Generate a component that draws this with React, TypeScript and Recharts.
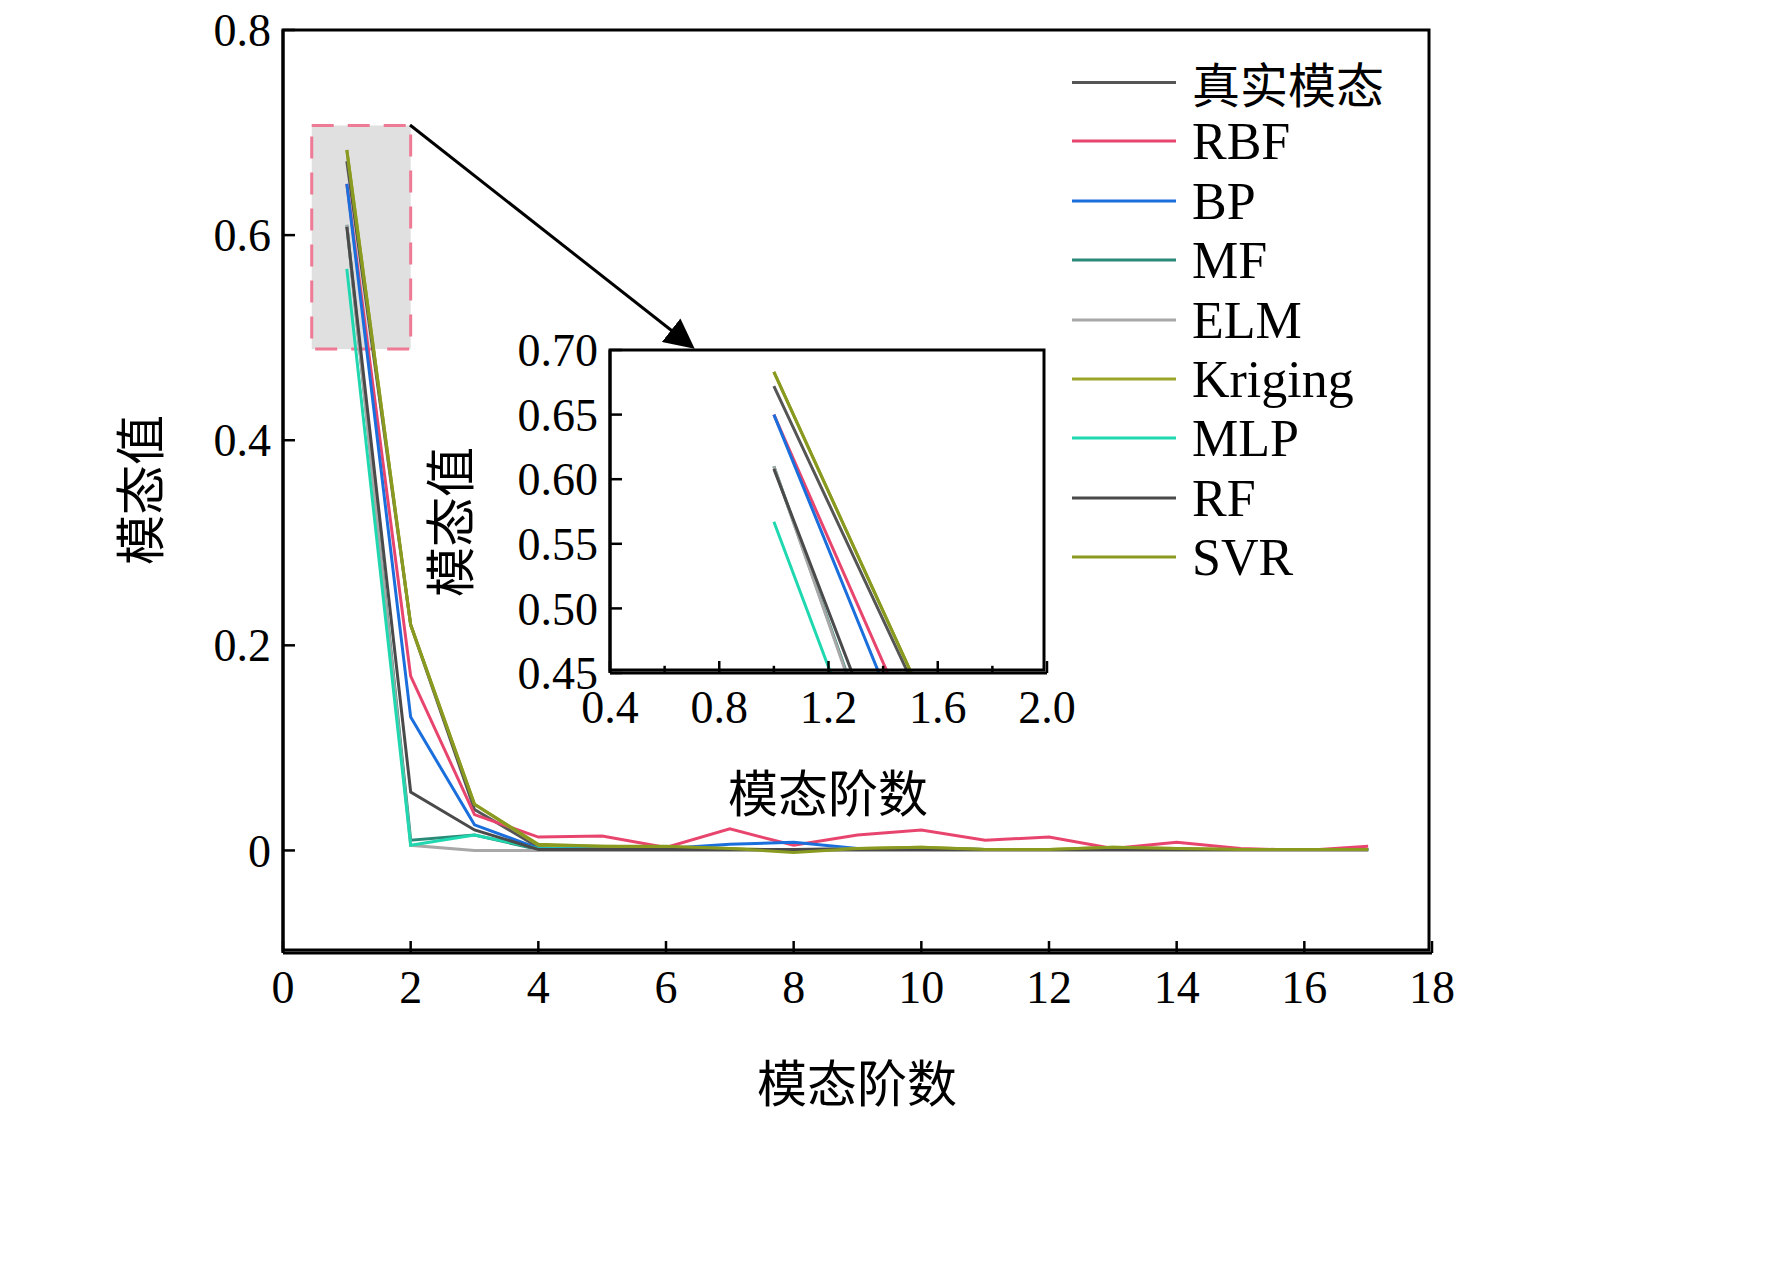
import React from "react";
import { LineChart, Line, XAxis, YAxis, ReferenceArea } from "recharts";

const orders = [1, 2, 3, 4, 5, 6, 7, 8, 9, 10, 11, 12, 13, 14, 15, 16, 17];
const trueMode = [0.672, 0.22, 0.04, 0.003, 0.002, 0.001, 0.001, 0.001, 0.002, 0.002, 0.001, 0.001, 0.001, 0.001, 0.001, 0.001, 0.001];
const rbf = [0.65, 0.17, 0.035, 0.013, 0.014, 0.003, 0.021, 0.005, 0.015, 0.02, 0.01, 0.013, 0.002, 0.008, 0.002, 0, 0.004];
const bp = [0.65, 0.13, 0.025, 0.002, 0.002, 0.002, 0.006, 0.008, 0.002, 0.002, 0.001, 0.001, 0.001, 0.001, 0.001, 0.001, 0.001];
const mf = [0.61, 0.01, 0.015, 0.001, 0.001, 0.001, 0.001, 0.001, 0.001, 0.002, 0.001, 0.001, 0.001, 0.001, 0.001, 0.001, 0.001];
const elm = [0.61, 0.005, 0.0, 0.0, 0.0, 0.0, 0.0, 0.0, 0.0, 0.0, 0.0, 0.0, 0.0, 0.0, 0.0, 0.0, 0.0];
const kriging = [0.683, 0.22, 0.045, 0.005, 0.004, 0.003, 0.002, 0.0, 0.002, 0.003, 0.001, 0.001, 0.003, 0.002, 0.001, 0.001, 0.001];
const mlp = [0.567, 0.005, 0.015, 0.002, 0.001, 0.001, 0.001, 0.001, 0.001, 0.001, 0.001, 0.001, 0.001, 0.001, 0.001, 0.001, 0.001];
const rf = [0.608, 0.057, 0.02, 0.001, 0.001, 0.001, 0.001, 0.001, 0.001, 0.001, 0.001, 0.001, 0.001, 0.001, 0.001, 0.001, 0.001];
const svr = [0.683, 0.22, 0.045, 0.006, 0.004, 0.004, 0.002, -0.002, 0.002, 0.003, 0.001, 0.001, 0.003, 0.002, 0.001, 0.001, 0.001];

const seriesNames = ["真实模态", "RBF", "BP", "MF", "ELM", "Kriging", "MLP", "RF", "SVR"];
const seriesValues = [trueMode, rbf, bp, mf, elm, kriging, mlp, rf, svr];
const seriesColors = ["#555555", "#e8456e", "#1a6fdc", "#2a8a78", "#a8a8a8", "#9aa52a", "#20d8b0", "#4a4a4a", "#8a9a20"];

const mainXTicks = [0, 2, 4, 6, 8, 10, 12, 14, 16, 18];
const mainYTicks = [0, 0.2, 0.4, 0.6, 0.8];
const insetXTicks = [0.4, 0.6, 0.8, 1.0, 1.2, 1.4, 1.6, 1.8, 2.0];
const insetYTicks = [0.45, 0.5, 0.55, 0.6, 0.65, 0.7];

const data = orders.map((o, i) => {
  const row: any = { x: o };
  seriesNames.forEach((n, k) => (row[n] = seriesValues[k][i]));
  return row;
});

const SERIF = "'Liberation Serif','DejaVu Serif',serif";
const CJK = "'Noto Sans CJK SC',sans-serif";
const AX = 60;

const makeTick = (side: "x" | "y", fmt: (v: number) => string, len: number, fs: number, skip?: (v: number) => boolean) => (p: any) => {
  const v = p.payload.value;
  const minor = !!(skip && skip(v));
  const label = minor ? "" : fmt(v);
  const l = minor ? len * 0.6 : len;
  if (side === "x")
    return (
      <g>
        <line x1={p.x} y1={p.y} x2={p.x} y2={p.y - l} stroke="#000" strokeWidth={2.5} />
        <text x={p.x} y={p.y + fs + 4} textAnchor="middle" fontFamily={SERIF} fontSize={fs} fill="#000">{label}</text>
      </g>
    );
  return (
    <g>
      <line x1={p.x} y1={p.y} x2={p.x + l} y2={p.y} stroke="#000" strokeWidth={2.5} />
      <text x={p.x - 12} y={p.y + fs * 0.35} textAnchor="end" fontFamily={SERIF} fontSize={fs} fill="#000">{label}</text>
    </g>
  );
};

const fmtMainY = (v: number) => (v === 0 ? "0" : v.toFixed(1));

export default function App() {
  return (
    <div style={{ position: "relative", width: 1772, height: 1267, margin: "-8px 0 0 -8px", background: "#fff" }}>
      <div style={{ position: "absolute", left: 0, top: 0 }}>
        <LineChart width={1772} height={1267} data={data} margin={{ top: 30, left: 283 - AX, right: 340, bottom: 314 - AX }}>
          <XAxis dataKey="x" type="number" domain={[0, 18]} ticks={mainXTicks} height={AX} tickSize={0} tickMargin={0}
            axisLine={{ stroke: "#000", strokeWidth: 3 }} tickLine={false} tick={makeTick("x", (v) => String(v), 12, 46)} interval={0} />
          <YAxis type="number" domain={[-0.1, 0.8]} ticks={mainYTicks} width={AX} tickSize={0} tickMargin={0}
            axisLine={{ stroke: "#000", strokeWidth: 3 }} tickLine={false} tick={makeTick("y", fmtMainY, 12, 46)} interval={0} />
          <ReferenceArea x1={0.45} x2={2} y1={0.489} y2={0.707} fill="#e0e0e0" fillOpacity={1} stroke="#ee7a96" strokeWidth={3} strokeDasharray="22 14" />
          {seriesNames.map((n, k) => (
            <Line key={n} dataKey={n} stroke={seriesColors[k]} strokeWidth={3} dot={false} isAnimationActive={false} />
          ))}
        </LineChart>
      </div>
      <div style={{ position: "absolute", left: 283, top: 30, width: 1149, height: 923, border: "3px solid #000", boxSizing: "border-box", transform: "translate(-1.5px,-1.5px)", pointerEvents: "none" }} />
      <svg width={1772} height={1267} style={{ position: "absolute", left: 0, top: 0, pointerEvents: "none" }}>
        <defs>
          <marker id="ah" markerWidth="10" markerHeight="10" refX="8" refY="5" orient="auto">
            <path d="M0,0 L10,5 L0,10 z" fill="#000" />
          </marker>
        </defs>
        <line x1={410} y1={125} x2={690} y2={345} stroke="#000" strokeWidth={3} markerEnd="url(#ah)" />
      </svg>
      <div style={{ position: "absolute", left: 610, top: 350, width: 437, height: 323, background: "#fff" }} />
      <div style={{ position: "absolute", left: 0, top: 0 }}>
        <LineChart width={1772} height={1267} data={data} margin={{ top: 350, left: 610 - AX, right: 1772 - 1047, bottom: 1267 - 673 - AX }}>
          <XAxis dataKey="x" type="number" domain={[0.4, 2.0]} allowDataOverflow ticks={insetXTicks} height={AX} tickSize={0} tickMargin={0}
            axisLine={{ stroke: "#000", strokeWidth: 3 }} tickLine={false} interval={0}
            tick={makeTick("x", (v) => v.toFixed(1), 12, 46, (v) => Math.round(v * 10) % 4 !== 0)} />
          <YAxis type="number" domain={[0.45, 0.7]} allowDataOverflow ticks={insetYTicks} width={AX} tickSize={0} tickMargin={0}
            axisLine={{ stroke: "#000", strokeWidth: 3 }} tickLine={false} interval={0}
            tick={makeTick("y", (v) => v.toFixed(2), 12, 46)} />
          {seriesNames.map((n, k) => (
            <Line key={n} dataKey={n} stroke={seriesColors[k]} strokeWidth={3} dot={false} isAnimationActive={false} />
          ))}
        </LineChart>
      </div>
      <div style={{ position: "absolute", left: 610, top: 350, width: 437, height: 323, border: "3px solid #000", boxSizing: "border-box", transform: "translate(-1.5px,-1.5px)", pointerEvents: "none" }} />
      <div style={{ position: "absolute", left: 857, top: 1080, transform: "translate(-50%,-50%)", fontFamily: CJK, fontSize: 50, whiteSpace: "nowrap" }}>模态阶数</div>
      <div style={{ position: "absolute", left: 828, top: 790, transform: "translate(-50%,-50%)", fontFamily: CJK, fontSize: 50, whiteSpace: "nowrap" }}>模态阶数</div>
      <div style={{ position: "absolute", left: 137, top: 490, transform: "translate(-50%,-50%) rotate(-90deg)", fontFamily: CJK, fontSize: 50, whiteSpace: "nowrap" }}>模态值</div>
      <div style={{ position: "absolute", left: 447, top: 522, transform: "translate(-50%,-50%) rotate(-90deg)", fontFamily: CJK, fontSize: 50, whiteSpace: "nowrap" }}>模态值</div>
      {seriesNames.map((n, k) => (
        <div key={n} style={{ position: "absolute", left: 1072, top: 82 + k * 59.4, display: "flex", alignItems: "center", transform: "translateY(-50%)" }}>
          <div style={{ width: 104, height: 3, background: seriesColors[k] }} />
          <span style={{ marginLeft: 16, fontFamily: k === 0 ? CJK : SERIF, fontSize: k === 0 ? 48 : 52, whiteSpace: "nowrap" }}>{n}</span>
        </div>
      ))}
    </div>
  );
}
